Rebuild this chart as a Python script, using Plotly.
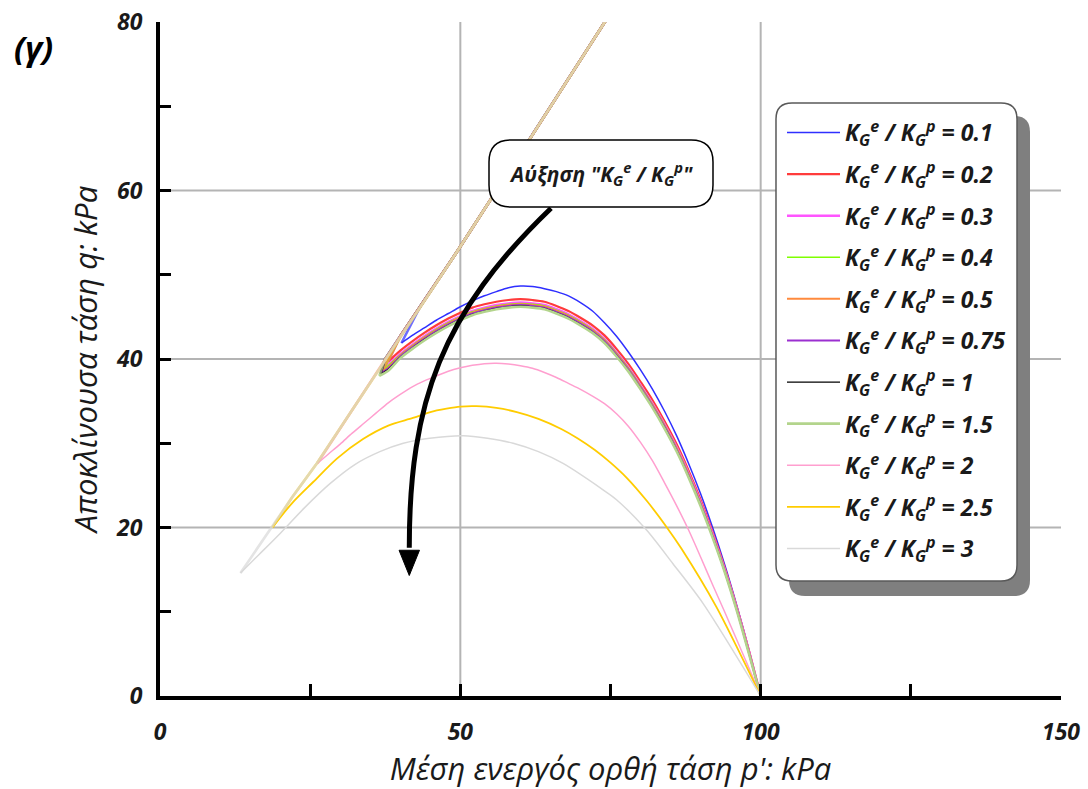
import plotly.graph_objects as go

# ---------------------------------------------------------------------------
# Stress paths in p'-q space for different K_G^e / K_G^p ratios
# ---------------------------------------------------------------------------
RATIOS = ["0.1", "0.2", "0.3", "0.4", "0.5", "0.75", "1", "1.5", "2", "2.5", "3"]
COLORS = ["#2f2fff", "#ff3b3b", "#ff55ff", "#7fff00", "#ff8a3d", "#9b30d0",
          "#000000", "#b3d48c", "#ff9fcf", "#ffcc00", "#d9d9d9"]
WIDTHS = [1.5, 2.2, 2.5, 1.5, 2.0, 2.0, 1.2, 2.6, 1.5, 1.8, 1.5]

# shared upper branch (failure envelope) followed after each cusp
CSL_P = [13.3, 18.6, 22.0, 26.1, 30.0, 34.0, 37.4, 40.0, 43.3, 49.6, 62.0, 74.0, 75.5]
CSL_Q = [14.6, 20.1, 23.6, 27.6, 31.8, 36.2, 39.9, 42.7, 46.2, 52.9, 66.6, 80.0, 81.6]

# p' stations shared by the upper group of paths
P_STEPS = [100, 98, 96, 94, 92, 90, 88, 86, 84, 82, 80, 78, 76, 74, 72, 70,
           68, 66, 64, 62, 60, 58, 56, 54, 52, 50, 48, 46, 44, 42, 40, 38]

P_01 = [100, 98, 96, 94, 92, 90, 88, 86, 84, 82, 80, 78, 76, 74, 72, 70,
        68, 66, 64, 62, 60, 58, 56, 54, 52, 50, 48, 46, 44, 42, 40.2]
Q_01 = [0, 5.6, 10.8, 15.6, 20.0, 24.0, 27.6, 30.9, 33.8, 36.4, 38.7, 40.8, 42.7, 44.3, 45.7, 46.7,
        47.5, 48.0, 48.35, 48.6, 48.65, 48.45, 48.0, 47.5, 46.9, 46.2, 45.4, 44.6, 43.7, 42.8, 41.9]

P_02 = P_STEPS
Q_02 = [0, 5.5, 10.6, 15.25, 19.45, 23.3, 26.75, 29.9, 32.6, 35.1, 37.3, 39.4, 41.2, 42.8, 44.0, 44.9,
        45.7, 46.3, 46.8, 47.0, 47.1, 47.0, 46.8, 46.5, 46.1, 45.5, 44.8, 44.0, 43.1, 42.1, 41.0, 39.7]

P_03 = P_STEPS + [37.3]
Q_03 = [0, 5.4, 10.45, 15.05, 19.2, 23.0, 26.45, 29.55, 32.25, 34.7, 36.9, 39.0, 40.8, 42.4, 43.6, 44.5,
        45.3, 45.9, 46.4, 46.6, 46.7, 46.6, 46.4, 46.1, 45.7, 45.1, 44.4, 43.6, 42.7, 41.7, 40.6, 39.3, 38.8]

P_04 = P_STEPS + [37.1]
Q_04 = [0, 5.35, 10.4, 15.0, 19.1, 22.9, 26.35, 29.45, 32.15, 34.6, 36.8, 38.9, 40.7, 42.3, 43.5, 44.4,
        45.2, 45.8, 46.3, 46.5, 46.6, 46.5, 46.3, 46.0, 45.6, 45.0, 44.3, 43.5, 42.6, 41.6, 40.5, 39.2, 38.6]

P_05 = P_STEPS + [36.9]
Q_05 = [0, 5.3, 10.35, 14.9, 19.0, 22.8, 26.25, 29.35, 32.05, 34.5, 36.7, 38.8, 40.6, 42.2, 43.4, 44.3,
        45.1, 45.7, 46.2, 46.4, 46.5, 46.4, 46.2, 45.9, 45.5, 44.9, 44.2, 43.4, 42.5, 41.5, 40.4, 39.0, 38.4]

P_075 = P_STEPS + [36.8]
Q_075 = [0, 5.25, 10.3, 14.85, 18.95, 22.75, 26.15, 29.25, 31.95, 34.4, 36.6, 38.7, 40.5, 42.1, 43.3, 44.2,
         45.0, 45.6, 46.1, 46.3, 46.4, 46.3, 46.1, 45.8, 45.4, 44.8, 44.1, 43.3, 42.4, 41.4, 40.3, 38.9, 38.3]

P_1 = P_STEPS + [36.7]
Q_1 = [0, 5.2, 10.25, 14.8, 18.9, 22.65, 26.05, 29.15, 31.85, 34.3, 36.5, 38.6, 40.4, 42.0, 43.2, 44.1,
       44.9, 45.5, 46.0, 46.2, 46.3, 46.2, 46.0, 45.7, 45.3, 44.7, 44.0, 43.2, 42.3, 41.3, 40.2, 38.8, 38.2]

P_15 = P_STEPS + [36.5]
Q_15 = [0, 5.15, 10.2, 14.75, 18.8, 22.55, 25.95, 29.05, 31.75, 34.2, 36.4, 38.5, 40.3, 41.9, 43.1, 44.0,
        44.8, 45.4, 45.9, 46.1, 46.2, 46.1, 45.9, 45.6, 45.2, 44.6, 43.9, 43.1, 42.2, 41.2, 40.1, 38.6, 38.0]

P_2 = [100, 98, 96, 94, 92, 90, 88, 86, 84, 82, 80, 78, 76, 74, 72, 70, 68, 66, 64,
       62, 60, 58, 56, 54, 52, 50, 48, 46, 44, 42, 40, 38, 36, 34, 32, 30, 28, 26.2]
Q_2 = [0, 3.4, 6.7, 10.0, 13.2, 16.5, 19.7, 22.6, 25.3, 27.9, 30.1, 32.0, 33.5, 34.7, 35.6, 36.4, 37.1, 37.8, 38.4,
       38.9, 39.2, 39.4, 39.5, 39.45, 39.25, 38.95, 38.55, 38.0, 37.4, 36.7, 35.8, 34.8, 33.6, 32.4, 31.2, 29.9, 28.7, 27.6]

P_25 = [100, 92.6, 86.8, 84.3, 81.0, 77.7, 75.0, 72.4, 69.5, 66.8, 63.0, 59.4,
        56.0, 52.7, 50.0, 47.7, 45.0, 42.1, 38.0, 33.8, 29.5, 25.5, 22.0, 18.7]
Q_25 = [0, 10.6, 17.5, 20.1, 23.2, 25.9, 27.7, 29.2, 30.6, 31.7, 32.9, 33.7,
        34.2, 34.4, 34.35, 34.1, 33.7, 33.0, 32.1, 30.5, 28.2, 25.4, 22.9, 20.0]

P_3 = [100, 90.4, 85.4, 81.0, 76.0, 73.7, 67.1, 63.0, 58.8, 54.5,
       50.5, 44.9, 40.5, 36.6, 32.5, 28.3, 24.0, 20.0, 16.5, 13.4]
Q_3 = [0, 11.0, 15.7, 19.7, 23.3, 24.5, 27.6, 29.0, 30.0, 30.6,
       30.9, 30.6, 30.0, 29.0, 27.5, 25.2, 22.3, 19.3, 16.8, 14.6]

PATHS_P = [P_01, P_02, P_03, P_04, P_05, P_075, P_1, P_15, P_2, P_25, P_3]
PATHS_Q = [Q_01, Q_02, Q_03, Q_04, Q_05, Q_075, Q_1, Q_15, Q_2, Q_25, Q_3]

X_TICKS = [0, 25, 50, 75, 100, 125, 150]
X_LABELS = ["0", "", "50", "", "100", "", "150"]
Y_TICKS = [0, 10, 20, 30, 40, 50, 60, 70, 80]
Y_LABELS = ["0", "", "20", "", "40", "", "60", "", "80"]
GRID_X = [50, 100]
GRID_Y = [20, 40, 60]

FONT = "Open Sans"
KG = "K<sub>G</sub><sup>e</sup> / K<sub>G</sub><sup>p</sup>"

# page / plot-area geometry (pixels)
W, H = 1088, 789
ML, MR, MT, MB = 160, 27, 22, 93
PW = W - ML - MR
PH = H - MT - MB


def fx(px):
    return (px - ML) / PW


def fy(py):
    return (H - MB - py) / PH


def rounded_rect(x0, y0, x1, y1, r):
    """Rounded rectangle path in paper coordinates from pixel corners."""
    segs = [
        ("M", [(x0 + r, y0)]),
        ("L", [(x1 - r, y0)]),
        ("Q", [(x1, y0), (x1, y0 + r)]),
        ("L", [(x1, y1 - r)]),
        ("Q", [(x1, y1), (x1 - r, y1)]),
        ("L", [(x0 + r, y1)]),
        ("Q", [(x0, y1), (x0, y1 - r)]),
        ("L", [(x0, y0 + r)]),
        ("Q", [(x0, y0), (x0 + r, y0)]),
    ]
    out = []
    for cmd, pts in segs:
        out.append(cmd + " " + " ".join(f"{fx(x):.5f},{fy(y):.5f}" for x, y in pts))
    return " ".join(out) + " Z"


fig = go.Figure()

for ratio, color, width, ps, qs in zip(RATIOS, COLORS, WIDTHS, PATHS_P, PATHS_Q):
    group = "r" + ratio
    fig.add_trace(go.Scatter(
        x=ps, y=qs, mode="lines", name=f"{KG} = {ratio}",
        legendgroup=group,
        line=dict(color=color, width=width, shape="spline", smoothing=0.8),
        hoverinfo="skip",
    ))
    # climb along the envelope after the cusp
    cp, cq = ps[-1], qs[-1]
    env_p = [cp] + [p for p, q in zip(CSL_P, CSL_Q) if q > cq + 1.5]
    env_q = [cq] + [q for q in CSL_Q if q > cq + 1.5]
    fig.add_trace(go.Scatter(
        x=env_p, y=env_q, mode="lines", legendgroup=group, showlegend=False,
        line=dict(color=color, width=2.6), opacity=0.7, hoverinfo="skip",
    ))

shapes = []
for gx in GRID_X:
    shapes.append(dict(type="line", xref="x", yref="y", x0=gx, x1=gx, y0=0, y1=80,
                       line=dict(color="#b4b4b4", width=2), layer="below"))
for gy in GRID_Y:
    shapes.append(dict(type="line", xref="x", yref="y", x0=0, x1=150, y0=gy, y1=gy,
                       line=dict(color="#b4b4b4", width=2), layer="below"))

# curved arrow showing the direction of increasing ratio
shapes.append(dict(type="path", xref="x", yref="y",
                   path="M 65.1,57.9 C 47,45.5 41.5,35 41.5,17.6",
                   line=dict(color="black", width=5), layer="above"))
shapes.append(dict(type="path", xref="x", yref="y",
                   path="M 39.8,17.3 L 43.2,17.3 L 41.5,14.3 Z",
                   fillcolor="black", line=dict(color="black", width=1), layer="above"))

# callout box
shapes.append(dict(type="path", xref="paper", yref="paper",
                   path=rounded_rect(489, 140, 713, 207, 22),
                   fillcolor="white", line=dict(color="black", width=1.5), layer="above"))

# legend frame with drop shadow
shapes.append(dict(type="path", xref="paper", yref="paper",
                   path=rounded_rect(789, 116, 1030, 596, 16),
                   fillcolor="#7f7f7f", line=dict(width=0), layer="above"))
shapes.append(dict(type="path", xref="paper", yref="paper",
                   path=rounded_rect(776, 103, 1017, 581, 16),
                   fillcolor="white", line=dict(color="#595959", width=1.5), layer="above"))

annotations = [
    dict(xref="paper", yref="paper", x=fx(601), y=fy(173.5), showarrow=False,
         text=f"Αύξηση \"{KG}\"", xanchor="center", yanchor="middle",
         font=dict(family=FONT, size=21, color="#1a1a1a", weight="bold", style="italic")),
    dict(xref="paper", yref="paper", x=fx(33), y=fy(47), showarrow=False,
         text="(γ)", xanchor="center", yanchor="middle",
         font=dict(family=FONT, size=33, color="black", weight="bold", style="italic")),
]

tick_font = dict(family=FONT, size=23, color="#1a1a1a", weight="bold", style="italic")
title_font = dict(family=FONT, size=31, color="#1a1a1a", style="italic")

fig.update_layout(
    width=W, height=H,
    margin=dict(l=ML, r=MR, t=MT, b=MB, pad=0),
    paper_bgcolor="white", plot_bgcolor="white",
    shapes=shapes, annotations=annotations,
    showlegend=True,
    legend=dict(
        x=fx(782), y=fy(111), xanchor="left", yanchor="top",
        bgcolor="rgba(0,0,0,0)", borderwidth=0,
        font=dict(family=FONT, size=23, color="#1a1a1a", weight="bold", style="italic"),
        tracegroupgap=8.7, itemwidth=53,
    ),
    xaxis=dict(
        range=[0, 150], tickmode="array", tickvals=X_TICKS, ticktext=X_LABELS,
        ticks="inside", ticklen=12, tickwidth=3, tickcolor="black",
        showline=True, linewidth=4, linecolor="black", mirror=False,
        showgrid=False, zeroline=False, tickfont=tick_font, ticklabelstandoff=12,
        title=dict(text="Μέση ενεργός ορθή τάση p': kPa", font=title_font, standoff=5),
        automargin=False,
    ),
    yaxis=dict(
        range=[0, 80], tickmode="array", tickvals=Y_TICKS, ticktext=Y_LABELS,
        ticks="inside", ticklen=11, tickwidth=3, tickcolor="black",
        showline=True, linewidth=4, linecolor="black", mirror=False,
        showgrid=False, zeroline=False, tickfont=tick_font, ticklabelstandoff=9,
        title=dict(text="Αποκλίνουσα τάση q: kPa", font=title_font, standoff=10),
        automargin=False,
    ),
)

fig.write_html("out.html")
